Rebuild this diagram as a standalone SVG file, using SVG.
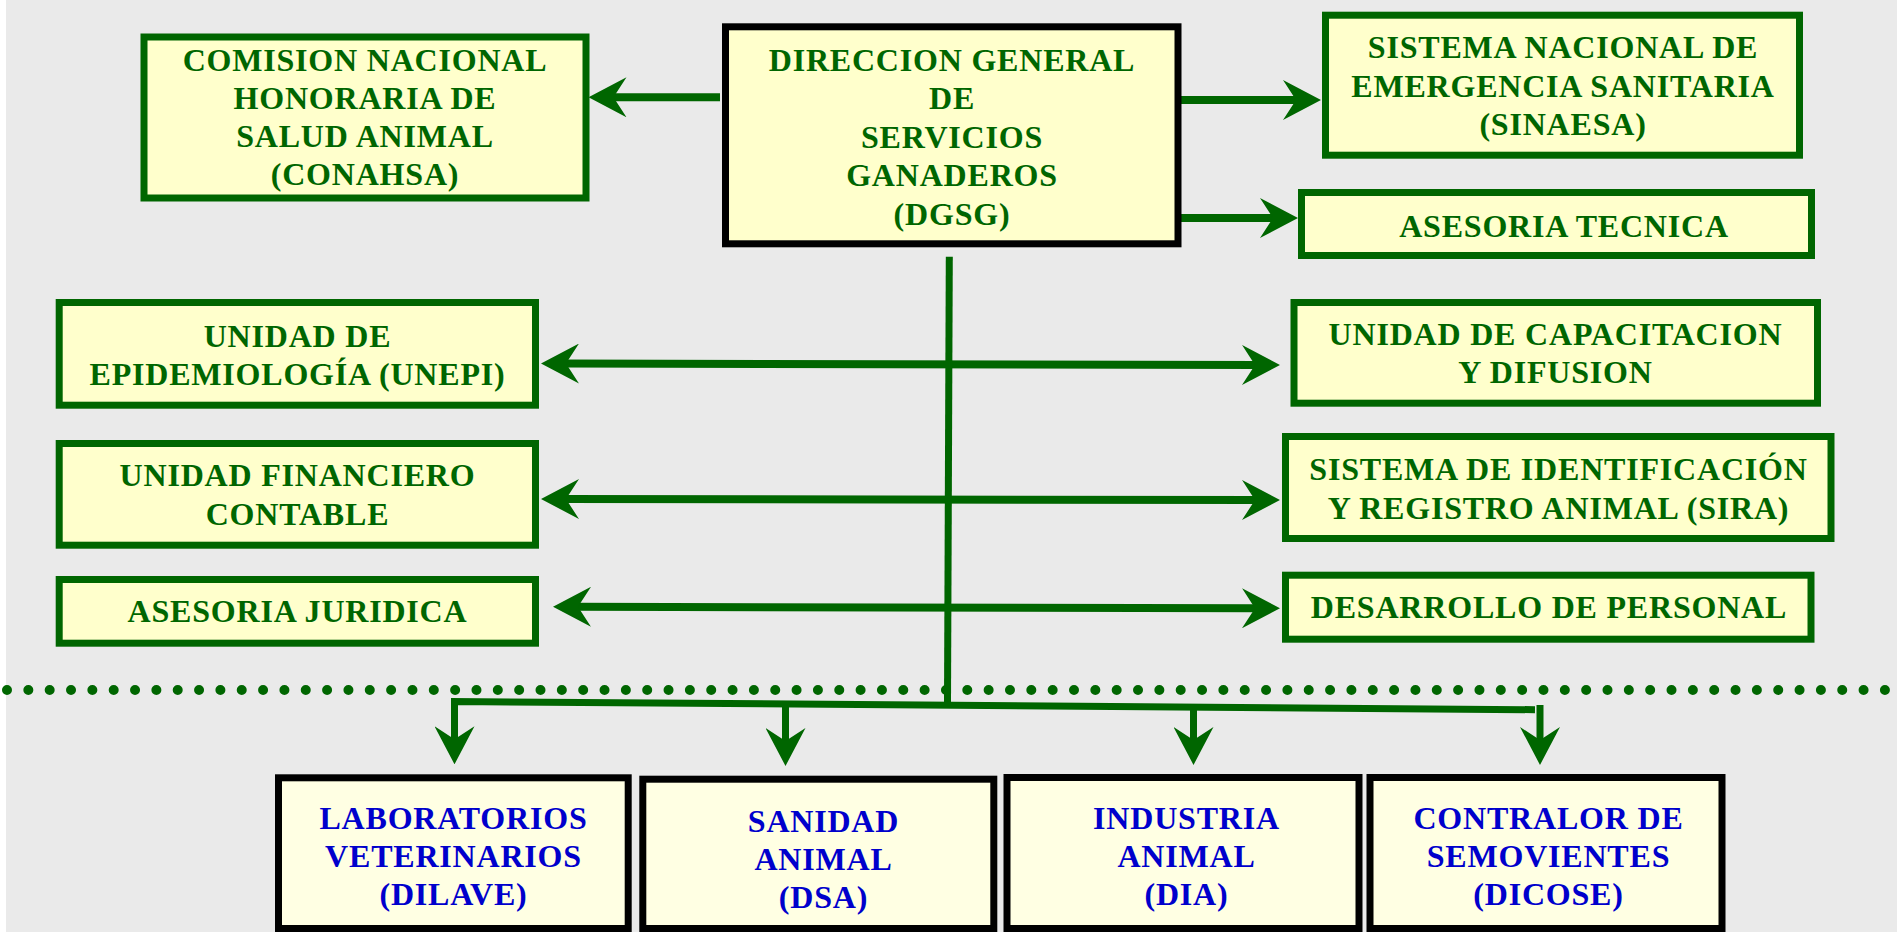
<svg xmlns="http://www.w3.org/2000/svg" width="1897" height="932" viewBox="0 0 1897 932">
  <style>
    .bx { fill: #FFFFCC; stroke: #006600; stroke-width: 7; }
    .bxk { fill: #FFFFCC; stroke: #000000; stroke-width: 7; }
    .bxb { fill: #FFFFE3; stroke: #000000; stroke-width: 7; }
    .t { font-family: "Liberation Serif", "DejaVu Serif", serif; font-weight: bold; font-size: 32px; letter-spacing: 0.8px; text-anchor: middle; fill: #006600; }
    .tb { fill: #0000CC; }
    .ln { fill: none; stroke: #006600; stroke-width: 8; stroke-linecap: butt; }
    .st { fill: none; stroke: #006600; stroke-width: 7; stroke-linecap: butt; stroke-linejoin: miter; }
  </style>
  <defs>
    <marker id="ah" markerUnits="userSpaceOnUse" viewBox="0 0 38 40" refX="16" refY="20" markerWidth="38" markerHeight="40" orient="auto-start-reverse">
      <path d="M38,20 L0,0 L13,20 L0,40 Z" fill="#006600"/>
    </marker>
  </defs>

  <rect x="0" y="0" width="1897" height="932" fill="#EAEAEA"/>
  <rect x="0" y="0" width="6" height="932" fill="#FFFFFF"/>

  <!-- dotted separator -->
  <line x1="7" y1="690" x2="1886" y2="690" stroke="#006600" stroke-width="10" stroke-linecap="round" stroke-dasharray="0 21.34"/>

  <g id="connectors">
    <line class="ln" x1="720" y1="97.3" x2="610.5" y2="97.3" marker-end="url(#ah)"/>
    <line class="ln" x1="1181" y1="100" x2="1299" y2="100" marker-end="url(#ah)"/>
    <line class="ln" x1="1181" y1="218" x2="1276" y2="218" marker-end="url(#ah)"/>
    <line class="ln" x1="563" y1="363.5" x2="1258" y2="365" marker-start="url(#ah)" marker-end="url(#ah)"/>
    <line class="ln" x1="563" y1="499" x2="1258" y2="500" marker-start="url(#ah)" marker-end="url(#ah)"/>
    <line class="ln" x1="575" y1="606.7" x2="1258" y2="608.3" marker-start="url(#ah)" marker-end="url(#ah)"/>
    <line class="st" x1="949.3" y1="256.7" x2="947.5" y2="704"/>
    <path class="st" d="M1535,709.7 L454.5,701.5 L454.5,742.3" marker-end="url(#ah)"/>
    <line class="st" x1="785.5" y1="704" x2="785.5" y2="744" marker-end="url(#ah)"/>
    <line class="st" x1="1193.5" y1="707" x2="1193.5" y2="743" marker-end="url(#ah)"/>
    <line class="st" x1="1540" y1="705" x2="1540" y2="743" marker-end="url(#ah)"/>
  </g>

  <g id="dgsg">
    <rect class="bxk" x="725.5" y="26.8" width="452.5" height="217"/>
    <text class="t" x="952" y="70.5">DIRECCION GENERAL</text>
    <text class="t" x="952" y="109">DE</text>
    <text class="t" x="952" y="147.5">SERVICIOS</text>
    <text class="t" x="952" y="186">GANADEROS</text>
    <text class="t" x="952" y="224.5">(DGSG)</text>
  </g>

  <g id="conahsa">
    <rect class="bx" x="144" y="37" width="442" height="161"/>
    <text class="t" x="365" y="70.5">COMISION NACIONAL</text>
    <text class="t" x="365" y="108.5">HONORARIA DE</text>
    <text class="t" x="365" y="146.5">SALUD ANIMAL</text>
    <text class="t" x="365" y="185">(CONAHSA)</text>
  </g>

  <g id="sinaesa">
    <rect class="bx" x="1325.5" y="15.2" width="474" height="140"/>
    <text class="t" x="1563" y="58">SISTEMA NACIONAL DE</text>
    <text class="t" x="1563" y="96.5">EMERGENCIA SANITARIA</text>
    <text class="t" x="1563" y="135">(SINAESA)</text>
  </g>

  <g id="asesoria-tecnica">
    <rect class="bx" x="1301.5" y="192.5" width="510" height="63"/>
    <text class="t" x="1564" y="236.5">ASESORIA TECNICA</text>
  </g>

  <g id="unepi">
    <rect class="bx" x="59.2" y="302.5" width="476.3" height="102.7"/>
    <text class="t" x="297.5" y="346.5">UNIDAD DE</text>
    <text class="t" x="297.5" y="384.5">EPIDEMIOLOGÍA (UNEPI)</text>
  </g>

  <g id="capacitacion">
    <rect class="bx" x="1294" y="302.5" width="523.5" height="100.7"/>
    <text class="t" x="1555.5" y="344.5">UNIDAD DE CAPACITACION</text>
    <text class="t" x="1555.5" y="383">Y DIFUSION</text>
  </g>

  <g id="financiero">
    <rect class="bx" x="59.2" y="443.5" width="476.3" height="101.7"/>
    <text class="t" x="297.5" y="485.5">UNIDAD FINANCIERO</text>
    <text class="t" x="297.5" y="524.5">CONTABLE</text>
  </g>

  <g id="sira">
    <rect class="bx" x="1285.5" y="436.5" width="545.5" height="102"/>
    <text class="t" x="1558.5" y="480">SISTEMA DE IDENTIFICACIÓN</text>
    <text class="t" x="1558.5" y="518.5">Y REGISTRO ANIMAL (SIRA)</text>
  </g>

  <g id="juridica">
    <rect class="bx" x="59.2" y="579.5" width="476.3" height="63.7"/>
    <text class="t" x="297.5" y="621.5">ASESORIA JURIDICA</text>
  </g>

  <g id="desarrollo">
    <rect class="bx" x="1285.5" y="575.2" width="525.5" height="64"/>
    <text class="t" x="1549" y="617.5">DESARROLLO DE PERSONAL</text>
  </g>

  <g id="dilave">
    <rect class="bxb" x="278.5" y="777.8" width="349.7" height="150.7"/>
    <text class="t tb" x="453.5" y="829">LABORATORIOS</text>
    <text class="t tb" x="453.5" y="867">VETERINARIOS</text>
    <text class="t tb" x="453.5" y="905">(DILAVE)</text>
  </g>

  <g id="dsa">
    <rect class="bxb" x="642.8" y="779.2" width="351" height="149.3"/>
    <text class="t tb" x="823.5" y="832">SANIDAD</text>
    <text class="t tb" x="823.5" y="870">ANIMAL</text>
    <text class="t tb" x="823.5" y="908">(DSA)</text>
  </g>

  <g id="dia">
    <rect class="bxb" x="1007" y="777.5" width="352" height="151"/>
    <text class="t tb" x="1186.5" y="829">INDUSTRIA</text>
    <text class="t tb" x="1186.5" y="867">ANIMAL</text>
    <text class="t tb" x="1186.5" y="905">(DIA)</text>
  </g>

  <g id="dicose">
    <rect class="bxb" x="1370" y="777.5" width="352" height="151"/>
    <text class="t tb" x="1548.5" y="829">CONTRALOR DE</text>
    <text class="t tb" x="1548.5" y="867">SEMOVIENTES</text>
    <text class="t tb" x="1548.5" y="905">(DICOSE)</text>
  </g>
</svg>
